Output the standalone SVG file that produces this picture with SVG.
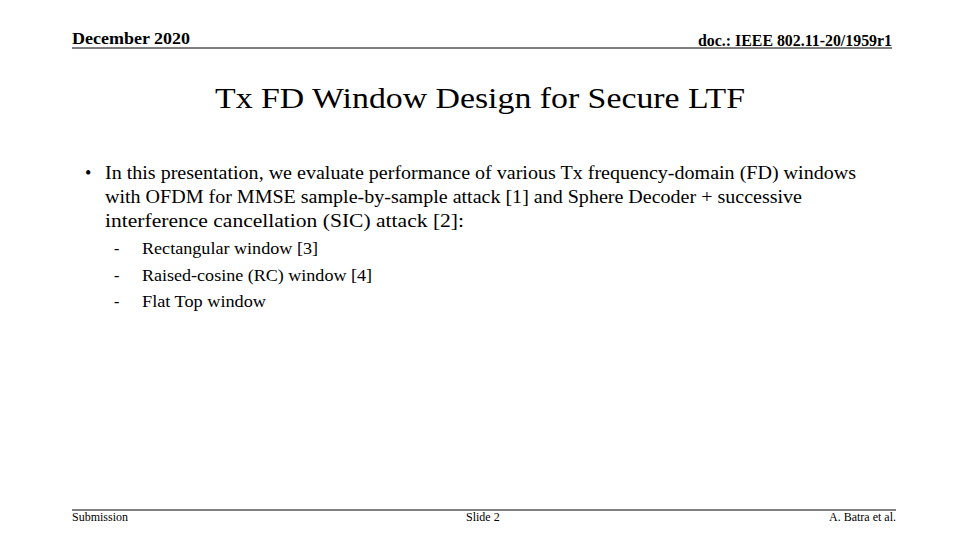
<svg xmlns="http://www.w3.org/2000/svg" width="960" height="540" viewBox="0 0 960 540">
<style>
text{font-family:"Liberation Serif",serif;fill:#000}
.b{font-weight:bold}
</style>
<rect width="960" height="540" fill="#fff"/>
<text x="72" y="44" class="b" font-size="16" textLength="118" lengthAdjust="spacingAndGlyphs">December 2020</text>
<text x="698" y="46" class="b" font-size="16" textLength="194" lengthAdjust="spacingAndGlyphs">doc.: IEEE 802.11-20/1959r1</text>
<line x1="72" y1="48" x2="892" y2="48" stroke="#000" stroke-width="1"/>
<text x="215" y="108" font-size="30" textLength="530" lengthAdjust="spacingAndGlyphs">Tx FD Window Design for Secure LTF</text>
<g font-size="18" lengthAdjust="spacingAndGlyphs">
<text x="85" y="179">•</text>
<text x="105" y="179" textLength="751" lengthAdjust="spacingAndGlyphs">In this presentation, we evaluate performance of various Tx frequency-domain (FD) windows</text>
<text x="105" y="203" textLength="697" lengthAdjust="spacingAndGlyphs">with OFDM for MMSE sample-by-sample attack [1] and Sphere Decoder + successive</text>
<text x="105" y="227" textLength="359" lengthAdjust="spacingAndGlyphs">interference cancellation (SIC) attack [2]:</text>
</g>
<g font-size="16">
<text x="114" y="254">-</text><text x="142" y="254" textLength="176" lengthAdjust="spacingAndGlyphs">Rectangular window [3]</text>
<text x="114" y="281">-</text><text x="142" y="281" textLength="230" lengthAdjust="spacingAndGlyphs">Raised-cosine (RC) window [4]</text>
<text x="114" y="307">-</text><text x="142" y="307" textLength="124" lengthAdjust="spacingAndGlyphs">Flat Top window</text>
</g>
<line x1="72" y1="510" x2="896" y2="510" stroke="#000" stroke-width="1"/>
<g font-size="12">
<text x="72" y="521">Submission</text>
<text x="466" y="521">Slide 2</text>
<text x="896" y="521" text-anchor="end">A. Batra et al.</text>
</g>
</svg>
